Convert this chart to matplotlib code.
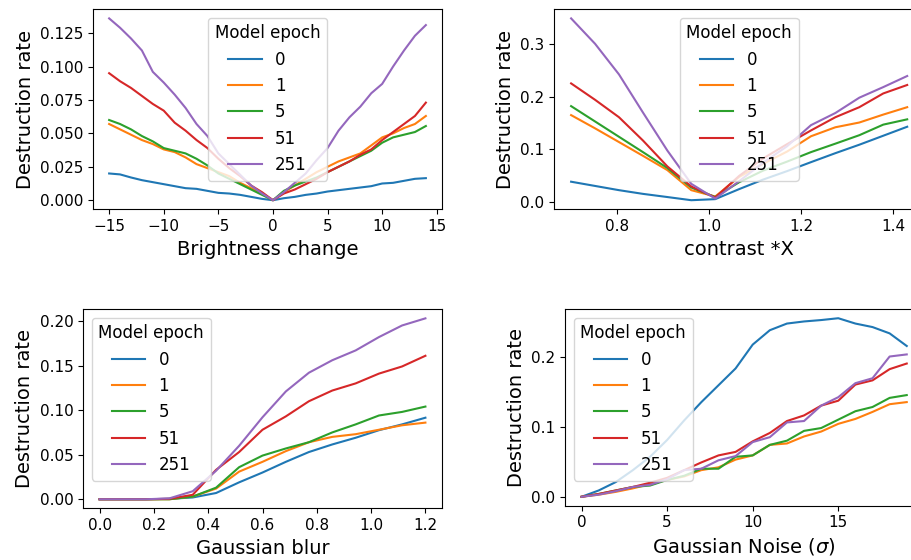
import matplotlib
matplotlib.use("Agg")
import matplotlib.pyplot as plt
from matplotlib.ticker import MultipleLocator

epochs = ["0", "1", "5", "51", "251"]
colors = ["tab:blue", "tab:orange", "tab:green", "tab:red", "tab:purple"]

# brightness change
bright_x = list(range(-15, 15))
bright_y = [
    [0.020, 0.0193, 0.017, 0.015, 0.0135, 0.012, 0.0105, 0.009, 0.0085, 0.007,
     0.0055, 0.005, 0.004, 0.0025, 0.001, 0.0, 0.0015, 0.0025, 0.004, 0.005,
     0.0065, 0.0075, 0.0085, 0.0095, 0.0105, 0.0125, 0.013, 0.0145, 0.016, 0.0165],
    [0.057, 0.053, 0.049, 0.045, 0.042, 0.038, 0.036, 0.032, 0.027, 0.024,
     0.021, 0.018, 0.013, 0.009, 0.005, 0.0, 0.006, 0.011, 0.016, 0.021,
     0.025, 0.029, 0.032, 0.035, 0.041, 0.047, 0.050, 0.054, 0.057, 0.063],
    [0.060, 0.057, 0.053, 0.048, 0.044, 0.039, 0.037, 0.035, 0.031, 0.026,
     0.020, 0.016, 0.012, 0.008, 0.004, 0.0, 0.007, 0.011, 0.014, 0.017,
     0.021, 0.025, 0.029, 0.033, 0.037, 0.043, 0.047, 0.049, 0.051, 0.0555],
    [0.095, 0.089, 0.084, 0.078, 0.072, 0.067, 0.058, 0.052, 0.045, 0.039,
     0.031, 0.024, 0.018, 0.011, 0.006, 0.0, 0.005, 0.008, 0.012, 0.016,
     0.021, 0.025, 0.029, 0.034, 0.038, 0.045, 0.051, 0.057, 0.063, 0.073],
    [0.136, 0.129, 0.121, 0.112, 0.096, 0.088, 0.079, 0.069, 0.057, 0.048,
     0.035, 0.027, 0.019, 0.011, 0.005, 0.0, 0.006, 0.013, 0.020, 0.030,
     0.039, 0.052, 0.062, 0.070, 0.080, 0.087, 0.100, 0.112, 0.123, 0.131],
]

# contrast
contrast_x = [0.7, 0.752, 0.804, 0.856, 0.909, 0.961, 1.013, 1.065,
              1.117, 1.169, 1.221, 1.274, 1.326, 1.378, 1.43]
contrast_y = [
    [0.039, 0.031, 0.023, 0.016, 0.010, 0.004, 0.006, 0.025, 0.043, 0.059,
     0.076, 0.093, 0.109, 0.126, 0.143],
    [0.165, 0.140, 0.114, 0.088, 0.061, 0.023, 0.011, 0.048, 0.073, 0.096,
     0.125, 0.142, 0.151, 0.166, 0.180],
    [0.182, 0.153, 0.124, 0.095, 0.065, 0.028, 0.010, 0.038, 0.060, 0.077,
     0.095, 0.111, 0.127, 0.147, 0.157],
    [0.225, 0.194, 0.161, 0.117, 0.068, 0.030, 0.009, 0.050, 0.083, 0.110,
     0.136, 0.161, 0.180, 0.206, 0.222],
    [0.348, 0.300, 0.242, 0.170, 0.098, 0.035, 0.007, 0.040, 0.075, 0.106,
     0.146, 0.169, 0.198, 0.218, 0.239],
]

# gaussian blur
blur_x = [0.0, 0.086, 0.171, 0.257, 0.343, 0.429, 0.514, 0.6, 0.686,
          0.771, 0.857, 0.943, 1.029, 1.114, 1.2]
blur_y = [
    [0.0, 0.0, 0.0, 0.0005, 0.002, 0.007, 0.019, 0.030, 0.042, 0.053,
     0.0615, 0.069, 0.0775, 0.084, 0.0915],
    [0.0, 0.0, 0.0, 0.0, 0.003, 0.012, 0.031, 0.042, 0.054, 0.064,
     0.070, 0.073, 0.078, 0.083, 0.086],
    [0.0, 0.0, 0.0, 0.0, 0.003, 0.013, 0.036, 0.049, 0.057, 0.064,
     0.075, 0.084, 0.094, 0.098, 0.104],
    [0.0, 0.0, 0.0, 0.0005, 0.005, 0.033, 0.053, 0.078, 0.093, 0.110,
     0.122, 0.130, 0.141, 0.149, 0.161],
    [0.0, 0.0, 0.0, 0.001, 0.009, 0.032, 0.060, 0.092, 0.121, 0.142,
     0.156, 0.167, 0.182, 0.195, 0.203],
]

# gaussian noise
noise_x = list(range(0, 20))
noise_y = [
    [0.0, 0.009, 0.021, 0.038, 0.057, 0.081, 0.109, 0.135, 0.159, 0.183,
     0.217, 0.2375, 0.247, 0.250, 0.252, 0.2546, 0.247, 0.242, 0.233, 0.215],
    [0.0, 0.003, 0.007, 0.012, 0.018, 0.024, 0.029, 0.038, 0.042, 0.053,
     0.059, 0.074, 0.076, 0.086, 0.093, 0.104, 0.111, 0.121, 0.132, 0.135],
    [0.0, 0.004, 0.009, 0.014, 0.016, 0.024, 0.030, 0.040, 0.040, 0.057,
     0.059, 0.074, 0.080, 0.094, 0.098, 0.110, 0.122, 0.128, 0.141, 0.145],
    [0.0, 0.004, 0.009, 0.014, 0.020, 0.027, 0.038, 0.049, 0.059, 0.064,
     0.079, 0.091, 0.108, 0.116, 0.130, 0.137, 0.160, 0.166, 0.182, 0.190],
    [0.0, 0.003, 0.008, 0.014, 0.017, 0.025, 0.038, 0.040, 0.052, 0.058,
     0.078, 0.085, 0.106, 0.108, 0.130, 0.142, 0.162, 0.169, 0.200, 0.203],
]

W, H = 912, 560
fig = plt.figure(figsize=(W / 100, H / 100), dpi=100)


def axes_px(x0, x1, y0, y1):
    # pixel box (from top-left) -> figure fraction
    return fig.add_axes([x0 / W, 1 - y1 / H, (x1 - x0) / W, (y1 - y0) / H])


panels = [
    (axes_px(93.3, 441.7, 9.3, 209.3), bright_x, bright_y, "Brightness change", "upper center", 5, 0.025),
    (axes_px(554.3, 924, 9.3, 209.3), contrast_x, contrast_y, "contrast *X", "upper center", 0.2, 0.1),
    (axes_px(83.3, 441.7, 309.3, 508.3), blur_x, blur_y, "Gaussian blur", "upper left", 0.2, 0.05),
    (axes_px(565.3, 923, 309.3, 505.7), noise_x, noise_y, r"Gaussian Noise ($\sigma$)", "upper left", 5, 0.1),
]

for ax, xs, ys, xlabel, loc, xstep, ystep in panels:
    for lab, col, y in zip(epochs, colors, ys):
        ax.plot(xs, y, color=col, lw=1.5, label=lab)
    ax.xaxis.set_major_locator(MultipleLocator(xstep))
    ax.yaxis.set_major_locator(MultipleLocator(ystep))
    ax.set_xlabel(xlabel, fontsize=14)
    ax.set_ylabel("Destruction rate", fontsize=14)
    ax.tick_params(labelsize=11)
    ax.legend(title="Model epoch", loc=loc, fontsize=12, title_fontsize=12)

fig.savefig("out.png", dpi=100)
